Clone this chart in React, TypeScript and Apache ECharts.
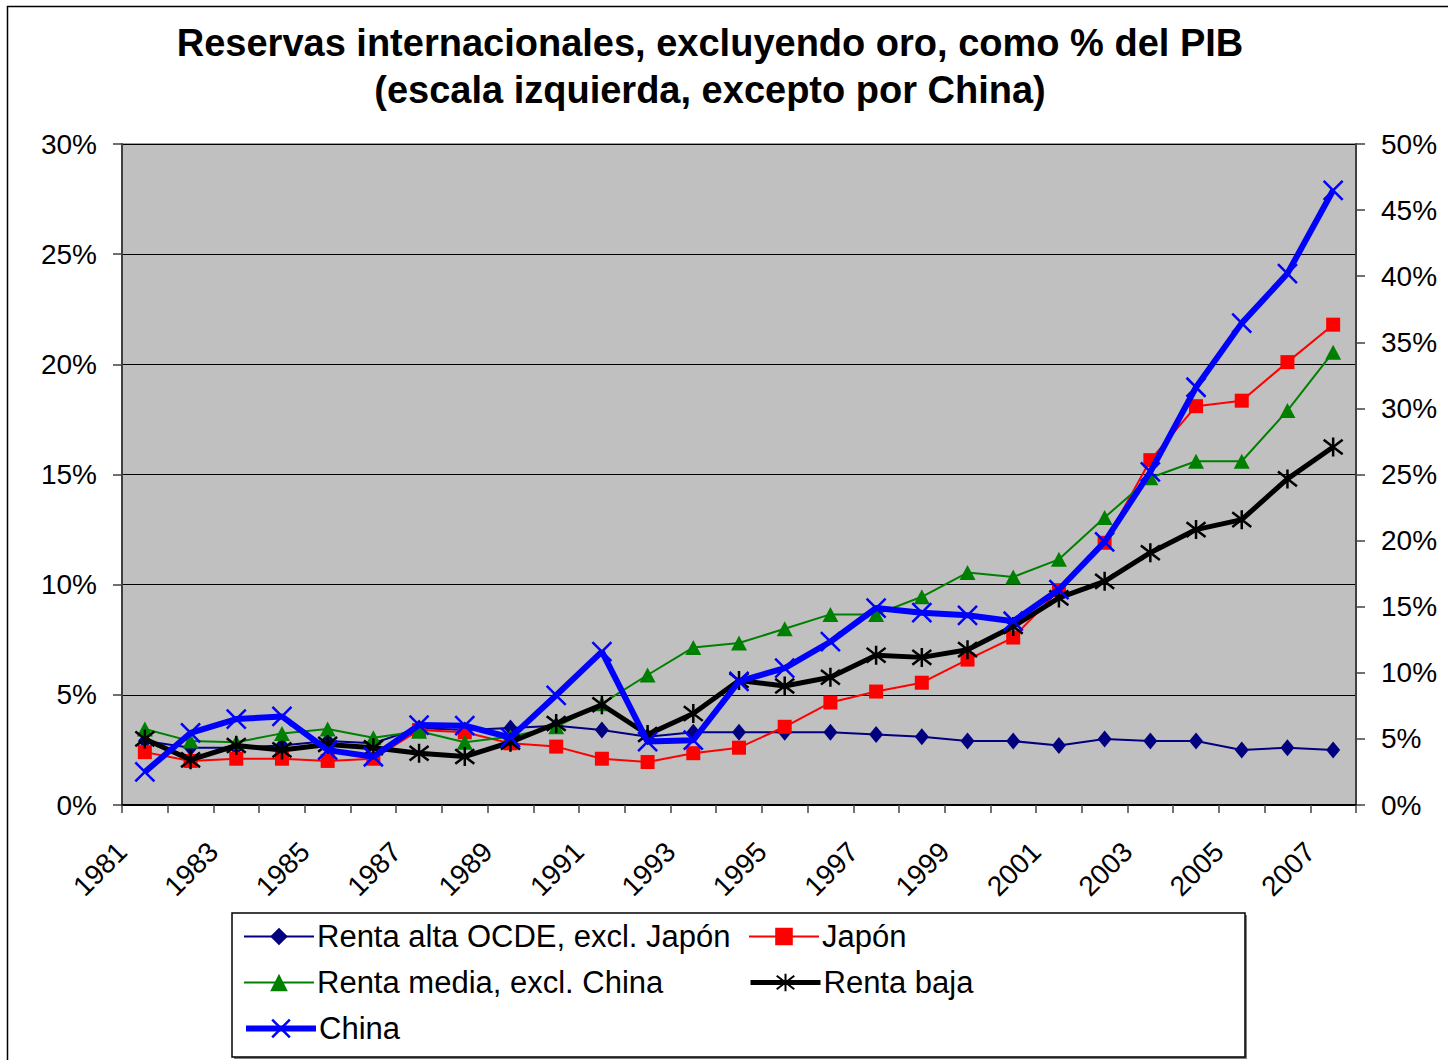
import React, { useEffect, useRef } from "react";
import * as echarts from "echarts";

const years = [
  "1981", "1982", "1983", "1984", "1985", "1986", "1987", "1988", "1989", "1990",
  "1991", "1992", "1993", "1994", "1995", "1996", "1997", "1998", "1999", "2000",
  "2001", "2002", "2003", "2004", "2005", "2006", "2007",
];
// tick labels sit on category boundaries (one more boundary than categories)
const boundaryLabels = [
  "1981", "1982", "1983", "1984", "1985", "1986", "1987", "1988", "1989", "1990",
  "1991", "1992", "1993", "1994", "1995", "1996", "1997", "1998", "1999", "2000",
  "2001", "2002", "2003", "2004", "2005", "2006", "2007", "2008",
];

const altaOCDE = [2.9, 2.6, 2.6, 2.7, 2.9, 2.8, 3.5, 3.4, 3.5, 3.6, 3.4, 3.1, 3.3, 3.3, 3.3, 3.3, 3.2, 3.1, 2.9, 2.9, 2.7, 3.0, 2.9, 2.9, 2.5, 2.6, 2.5];
const japon = [2.4, 2.0, 2.1, 2.1, 2.0, 2.1, 3.4, 3.3, 2.8, 2.65, 2.1, 1.95, 2.35, 2.6, 3.55, 4.65, 5.15, 5.55, 6.6, 7.6, 9.75, 11.9, 15.65, 18.1, 18.35, 20.1, 21.8];
const media = [3.45, 2.9, 2.85, 3.25, 3.45, 3.05, 3.35, 2.85, 3.1, 3.55, 4.6, 5.9, 7.15, 7.35, 8.0, 8.65, 8.65, 9.45, 10.55, 10.35, 11.15, 13.05, 14.85, 15.6, 15.6, 17.9, 20.55];
const baja = [3.0, 2.05, 2.7, 2.5, 2.75, 2.6, 2.35, 2.2, 2.85, 3.7, 4.55, 3.2, 4.15, 5.65, 5.4, 5.8, 6.8, 6.7, 7.05, 8.1, 9.4, 10.15, 11.45, 12.5, 12.95, 14.8, 16.25];
const china = [2.5, 5.45, 6.5, 6.7, 4.15, 3.65, 6.05, 6.0, 5.1, 8.3, 11.6, 4.8, 4.9, 9.35, 10.35, 12.35, 14.9, 14.55, 14.35, 13.9, 16.3, 19.9, 25.2, 31.6, 36.45, 40.2, 46.5];

const names = [
  "Renta alta OCDE, excl. Japón",
  "Japón",
  "Renta media, excl. China",
  "Renta baja",
  "China",
];

const FONT = "Liberation Sans, Arial, sans-serif";
const ASTERISK = "path://M0,0L10,10M10,0L0,10M5,-1.5L5,11.5";
const CROSS = "path://M0,0L10,10M10,0L0,10";

export default function App() {
  const ref = useRef<HTMLDivElement>(null);
  useEffect(() => {
    if (!ref.current) return;
    const chart = echarts.init(ref.current, null, { renderer: "svg" });
    const legendItem = (name: string, left: number, top: number, lw: number, bw: number) => ({
      data: [name],
      left,
      top,
      padding: 0,
      itemWidth: 70,
      itemHeight: 22,
      itemGap: 0,
      selectedMode: false,
      lineStyle: { width: lw },
      itemStyle: { borderWidth: bw },
      textStyle: { fontSize: 31, fontFamily: FONT, color: "#000", padding: [0, 0, 0, -2] },
    });
    chart.setOption({
      animation: false,
      textStyle: { fontFamily: FONT },
      title: {
        text: "Reservas internacionales, excluyendo oro, como % del PIB\n(escala izquierda, excepto por China)",
        left: 705,
        top: 14,
        textAlign: "center",
        textStyle: { fontSize: 38, fontWeight: "bold", color: "#000", lineHeight: 47, fontFamily: FONT },
      },
      graphic: [
        { type: "rect", shape: { x: 7.5, y: 6.5, width: 1500, height: 1100 }, style: { fill: "none", stroke: "#000", lineWidth: 1.5 }, z: -10 },
        { type: "rect", shape: { x: 234, y: 915, width: 1013, height: 144 }, style: { fill: "#808080" }, z: -5 },
        { type: "rect", shape: { x: 232, y: 913, width: 1013, height: 144 }, style: { fill: "#fff", stroke: "#000", lineWidth: 1.5 }, z: -4 },
      ],
      legend: [
        legendItem(names[0], 243, 921, 2, 0),
        legendItem(names[1], 748, 921, 2, 0),
        legendItem(names[2], 243, 967, 2, 0),
        legendItem(names[3], 748, 967, 5, 2),
        legendItem(names[4], 243, 1013, 6, 2.5),
      ],
      grid: {
        left: 122,
        right: 92,
        top: 144,
        bottom: 255,
        show: true,
        backgroundColor: "#C0C0C0",
        borderColor: "#808080",
        borderWidth: 1.5,
      },
      xAxis: [
        {
          type: "category",
          data: years,
          boundaryGap: true,
          axisLine: { lineStyle: { color: "#000", width: 2 } },
          axisTick: { show: true, length: 8, lineStyle: { color: "#444", width: 1.5 } },
          axisLabel: { show: false },
          splitLine: { show: false },
        },
        {
          type: "category",
          data: boundaryLabels,
          boundaryGap: false,
          position: "bottom",
          axisLine: { show: false },
          axisTick: { show: false },
          axisLabel: { interval: 1, rotate: 45, margin: 42, fontSize: 28, color: "#000", fontFamily: FONT },
          splitLine: { show: false },
        },
      ],
      yAxis: [
        {
          type: "value",
          min: 0,
          max: 30,
          interval: 5,
          axisLine: { show: true, lineStyle: { color: "#404040", width: 2 } },
          axisTick: { show: true, length: 9, lineStyle: { color: "#404040", width: 1.5 } },
          axisLabel: { formatter: "{value}%", fontSize: 28, color: "#000", margin: 25, fontFamily: FONT },
          splitLine: { show: true, lineStyle: { color: "#000", width: 1 } },
        },
        {
          type: "value",
          min: 0,
          max: 50,
          interval: 5,
          position: "right",
          axisLine: { show: true, lineStyle: { color: "#404040", width: 2 } },
          axisTick: { show: true, length: 9, lineStyle: { color: "#404040", width: 1.5 } },
          axisLabel: { formatter: "{value}%", fontSize: 28, color: "#000", margin: 25, fontFamily: FONT },
          splitLine: { show: false },
        },
      ],
      series: [
        {
          name: names[0],
          type: "line",
          data: altaOCDE,
          symbol: "diamond",
          symbolSize: [14, 17],
          showAllSymbol: true,
          lineStyle: { color: "#000080", width: 2 },
          itemStyle: { color: "#000080" },
          z: 2,
        },
        {
          name: names[1],
          type: "line",
          data: japon,
          symbol: "rect",
          symbolSize: 14,
          showAllSymbol: true,
          lineStyle: { color: "#FF0000", width: 2 },
          itemStyle: { color: "#FF0000" },
          z: 3,
        },
        {
          name: names[2],
          type: "line",
          data: media,
          symbol: "triangle",
          symbolSize: [16, 15],
          showAllSymbol: true,
          lineStyle: { color: "#008000", width: 2 },
          itemStyle: { color: "#008000" },
          z: 4,
        },
        {
          name: names[3],
          type: "line",
          data: baja,
          symbol: ASTERISK,
          symbolSize: 19,
          showAllSymbol: true,
          lineStyle: { color: "#000000", width: 5 },
          itemStyle: { color: "#000000", borderColor: "#000000", borderWidth: 2.5 },
          z: 5,
        },
        {
          name: names[4],
          type: "line",
          yAxisIndex: 1,
          data: china,
          symbol: CROSS,
          symbolSize: 19,
          showAllSymbol: true,
          lineStyle: { color: "#0000FF", width: 6 },
          itemStyle: { color: "#0000FF", borderColor: "#0000FF", borderWidth: 2.5 },
          z: 6,
        },
      ],
    });
    return () => chart.dispose();
  }, []);
  return (
    <div
      ref={ref}
      style={{ position: "fixed", left: 0, top: 0, width: 1448, height: 1060, background: "#fff" }}
    />
  );
}
